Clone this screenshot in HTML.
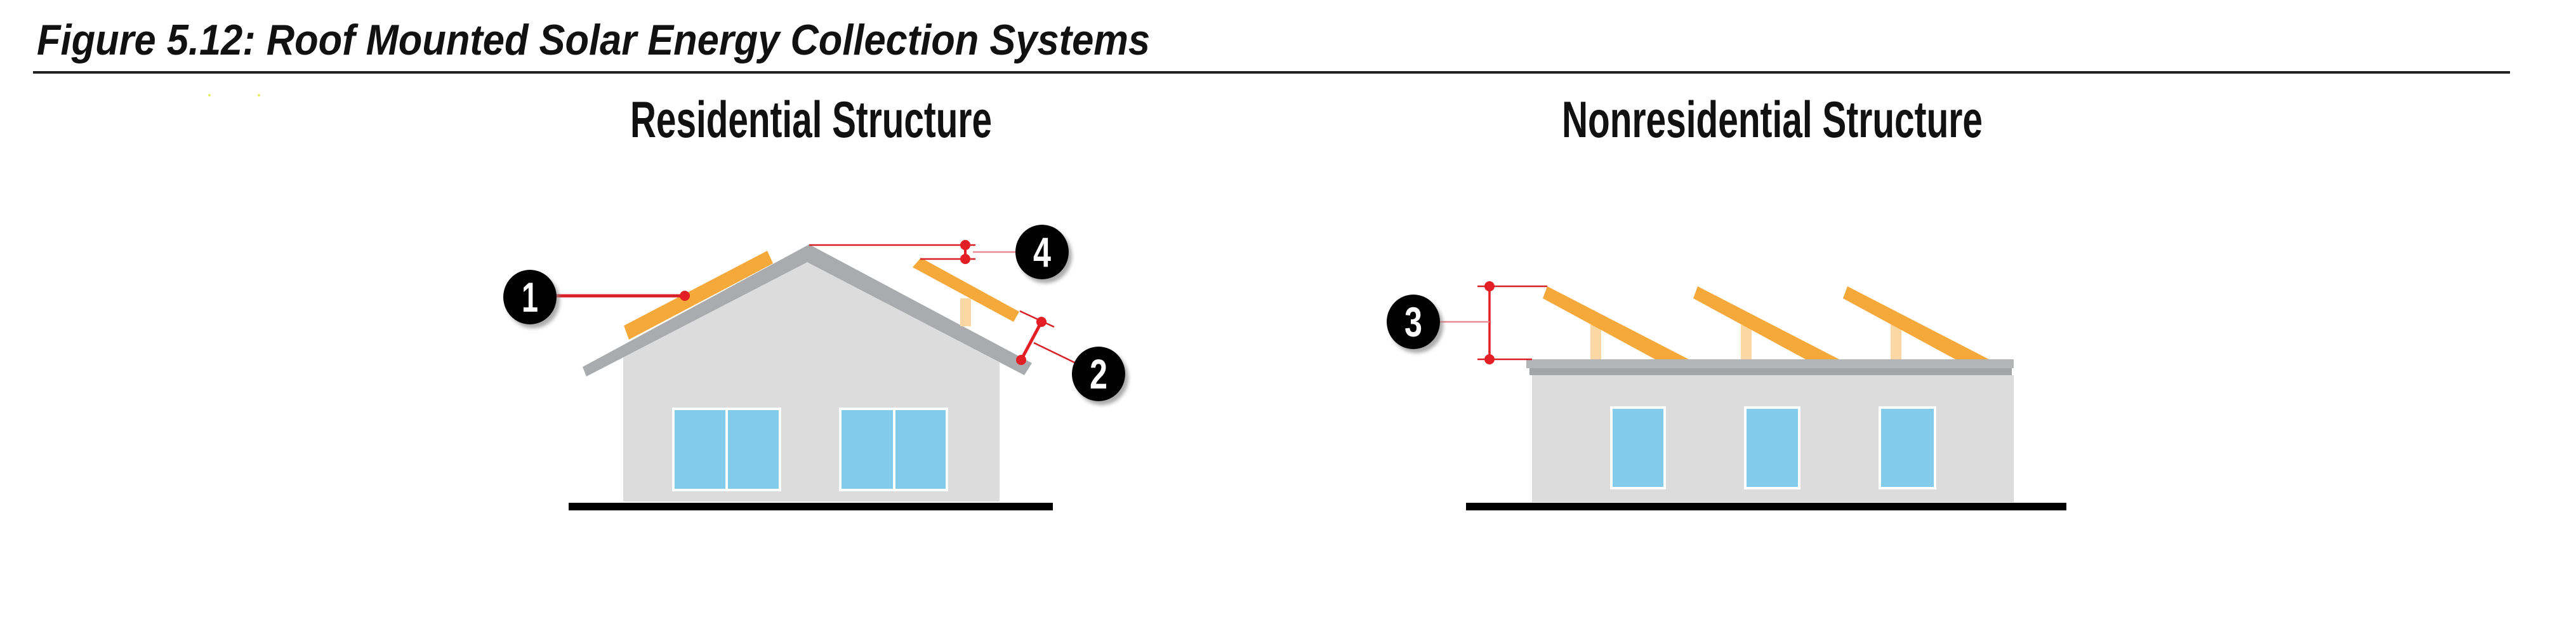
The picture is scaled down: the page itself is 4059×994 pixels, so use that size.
<!DOCTYPE html>
<html><head><meta charset="utf-8"><style>
html,body{margin:0;padding:0;background:#fff;}
svg{display:block;}
</style></head><body>
<svg width="4059" height="994" viewBox="0 0 4059 994" xmlns="http://www.w3.org/2000/svg" font-family="'Liberation Sans', sans-serif">
<defs>
<filter id="sh" x="-50%" y="-50%" width="200%" height="200%"><feDropShadow dx="5" dy="6" stdDeviation="3" flood-color="#888" flood-opacity="0.7"/></filter>
</defs>
<rect width="4059" height="994" fill="#fff"/>
<text x="58" y="86" font-size="68" font-style="italic" font-weight="bold" textLength="1754" lengthAdjust="spacingAndGlyphs" fill="#111">Figure 5.12: Roof Mounted Solar Energy Collection Systems</text>
<rect x="52" y="112" width="3903" height="4" fill="#222"/>
<circle cx="330" cy="150" r="2" fill="#e8f060"/><circle cx="408" cy="150" r="2" fill="#e8f060"/>
<text x="993" y="216" font-size="81" font-weight="bold" textLength="570" lengthAdjust="spacingAndGlyphs" fill="#111">Residential Structure</text>
<text x="2461" y="216" font-size="81" font-weight="bold" textLength="663" lengthAdjust="spacingAndGlyphs" fill="#111">Nonresidential Structure</text>

<polygon points="982,563 1272,413 1575,571 1575,790 982,790" fill="#dcdcdc"/>
<polygon points="918,578 1275,385 1626,572 1614,591 1272,413 924,593" fill="#a9abae"/>
<rect x="896" y="792" width="763" height="12" fill="#000"/>
<g fill="#82cbea" stroke="#fff" stroke-width="4">
<rect x="1061" y="644" width="84" height="128"/><rect x="1145" y="644" width="84" height="128"/>
<rect x="1324" y="644" width="85" height="128"/><rect x="1409" y="644" width="83" height="128"/>
</g>
<polygon points="983,513 1209,395 1218,415 991,535" fill="#f6a93b"/>
<rect x="1513" y="470" width="17" height="44" fill="#fbd7a4"/>
<polygon points="1451,406 1606,491 1597,507 1438,421" fill="#f6a93b"/>
<line x1="875" y1="466" x2="1079" y2="466" stroke="#d71f26" stroke-width="5"/>
<circle cx="1079" cy="466" r="8" fill="#e31e24"/>
<line x1="1275" y1="386" x2="1537" y2="386" stroke="#d71f26" stroke-width="2.5"/>
<line x1="1450" y1="408" x2="1537" y2="408" stroke="#d71f26" stroke-width="2.5"/>
<line x1="1521" y1="386" x2="1521" y2="408" stroke="#e31e24" stroke-width="4"/>
<circle cx="1521" cy="386" r="8" fill="#e31e24"/><circle cx="1521" cy="408" r="8" fill="#e31e24"/>
<line x1="1533" y1="397" x2="1600" y2="397" stroke="#e88a90" stroke-width="2.5"/>
<line x1="1607" y1="490" x2="1661" y2="515" stroke="#d71f26" stroke-width="2.5"/>
<line x1="1641" y1="507" x2="1609" y2="567" stroke="#e31e24" stroke-width="5"/>
<circle cx="1641" cy="507" r="8" fill="#e31e24"/><circle cx="1609" cy="567" r="8" fill="#e31e24"/>
<line x1="1629" y1="540" x2="1693" y2="571" stroke="#d71f26" stroke-width="2.5"/>

<rect x="2414" y="591" width="759" height="200" fill="#dcdcdc"/>
<rect x="2405" y="566" width="768" height="14" fill="#b4b5b7"/>
<rect x="2410" y="580" width="760" height="11" fill="#a3a4a6"/>
<rect x="2310" y="792" width="946" height="12" fill="#000"/>
<g fill="#82cbea" stroke="#fff" stroke-width="4">
<rect x="2539" y="642" width="84" height="127"/><rect x="2750" y="642" width="85" height="127"/><rect x="2962" y="642" width="87" height="127"/>
</g>
<g fill="#fbd7a4"><rect x="2506" y="507" width="17" height="59"/><rect x="2743" y="507" width="17" height="59"/><rect x="2979" y="507" width="17" height="59"/></g>
<g fill="#f6a93b">
<polygon points="2438,451 2661,566 2608,566 2431,470"/>
<polygon points="2675,451 2898,566 2845,566 2668,470"/>
<polygon points="2911,451 3134,566 3081,566 2904,470"/>
</g>
<line x1="2328" y1="451" x2="2438" y2="451" stroke="#d71f26" stroke-width="2.5"/>
<line x1="2328" y1="566" x2="2414" y2="566" stroke="#d71f26" stroke-width="2.5"/>
<line x1="2347" y1="451" x2="2347" y2="566" stroke="#e31e24" stroke-width="3.5"/>
<circle cx="2347" cy="451" r="8" fill="#e31e24"/><circle cx="2347" cy="566" r="8" fill="#e31e24"/>
<line x1="2265" y1="507" x2="2347" y2="507" stroke="#e88a90" stroke-width="2.5"/>

<g filter="url(#sh)" fill="#000">
<ellipse cx="835" cy="468" rx="42" ry="43"/>
<ellipse cx="1642" cy="397" rx="42" ry="43"/>
<ellipse cx="1731" cy="589" rx="42" ry="43"/>
<ellipse cx="2227" cy="507" rx="42" ry="43"/>
</g>
<g fill="#fff" font-weight="bold" font-size="66" text-anchor="middle">
<text x="835" y="491" textLength="26" lengthAdjust="spacingAndGlyphs">1</text>
<text x="1642" y="420" textLength="28" lengthAdjust="spacingAndGlyphs">4</text>
<text x="1731" y="612" textLength="28" lengthAdjust="spacingAndGlyphs">2</text>
<text x="2227" y="530" textLength="28" lengthAdjust="spacingAndGlyphs">3</text>
</g>
</svg>
</body></html>
